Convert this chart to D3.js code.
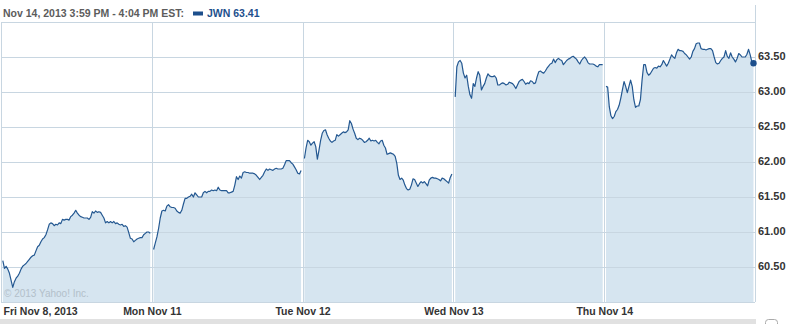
<!DOCTYPE html>
<html><head><meta charset="utf-8">
<script src="https://cdn.jsdelivr.net/npm/d3@7"></script>
<style>body{margin:0;background:#fff;} svg{display:block;}</style>
</head><body>
<svg id="chart" width="797" height="324"></svg>
<script>
// ---------- data ----------
const dayLabels = ["Fri Nov 8, 2013", "Mon Nov 11", "Tue Nov 12", "Wed Nov 13", "Thu Nov 14"];
const yTickValues = [60.5, 61.0, 61.5, 62.0, 62.5, 63.0, 63.5];
const headerText = "Nov 14, 2013 3:59 PM - 4:04 PM EST:";
const symbolText = "JWN 63.41";
const copyrightText = "\u00A9 2013 Yahoo! Inc.";

const friPrices = [60.59,60.48,60.51,60.47,60.41,60.31,60.21,60.29,60.34,60.37,60.41,60.47,60.51,60.53,60.55,60.58,60.61,60.64,60.66,60.67,60.73,60.79,60.81,60.86,60.90,60.92,60.96,61.03,61.11,61.13,61.12,61.09,61.11,61.10,61.13,61.12,61.18,61.17,61.18,61.18,61.17,61.22,61.24,61.27,61.31,61.27,61.24,61.22,61.21,61.20,61.20,61.20,61.18,61.21,61.29,61.27,61.30,61.28,61.29,61.28,61.24,61.20,61.13,61.15,61.13,61.15,61.13,61.15,61.12,61.13,61.11,61.10,61.11,61.08,61.09,61.07,60.99,60.91,60.90,60.86,60.88,60.90,60.91,60.92,60.92,60.96,60.98,61.00,61.00,60.98];
const monPrices = [60.75,60.84,60.93,61.05,61.20,61.30,61.31,61.30,61.37,61.39,61.36,61.35,61.35,61.34,61.30,61.28,61.27,61.31,61.40,61.48,61.48,61.50,61.51,61.54,61.50,61.56,61.53,61.50,61.50,61.50,61.56,61.58,61.56,61.58,61.58,61.60,61.59,61.60,61.59,61.64,61.60,61.59,61.59,61.59,61.59,61.56,61.56,61.57,61.58,61.67,61.79,61.75,61.80,61.77,61.85,61.86,61.85,61.85,61.84,61.84,61.84,61.83,61.81,61.78,61.75,61.78,61.81,61.86,61.90,61.88,61.90,61.89,61.88,61.90,61.91,61.90,61.90,61.90,61.91,61.96,62.02,62.02,62.02,61.99,61.97,61.93,61.89,61.84,61.83,61.88];
const tuePrices = [62.05,62.20,62.31,62.29,62.24,62.27,62.29,62.22,62.04,62.17,62.31,62.41,62.45,62.46,62.39,62.34,62.30,62.28,62.30,62.31,62.39,62.37,62.39,62.41,62.43,62.42,62.43,62.46,62.59,62.55,62.47,62.41,62.34,62.32,62.34,62.33,62.31,62.28,62.29,62.31,62.34,62.30,62.31,62.30,62.31,62.28,62.26,62.30,62.31,62.24,62.20,62.11,62.12,62.13,62.12,62.11,62.08,61.98,61.81,61.75,61.77,61.74,61.67,61.62,61.60,61.61,61.67,61.76,61.75,61.70,61.65,61.69,61.72,61.70,61.72,61.69,61.66,61.74,61.77,61.78,61.77,61.77,61.76,61.75,61.73,61.77,61.76,61.74,61.72,61.70,61.78,61.83];
const wedPrices = [62.93,63.36,63.43,63.45,63.41,63.27,63.20,63.24,63.08,62.96,62.91,63.12,63.08,63.20,63.29,63.24,63.03,63.08,63.12,63.20,63.26,63.23,63.22,63.22,63.23,63.20,63.10,63.10,63.12,63.13,63.12,63.10,63.11,63.14,63.13,63.12,63.09,63.05,63.10,63.15,63.17,63.18,63.15,63.11,63.13,63.12,63.16,63.15,63.12,63.13,63.22,63.29,63.30,63.28,63.27,63.30,63.34,63.37,63.40,63.41,63.47,63.42,63.46,63.48,63.46,63.45,63.39,63.42,63.45,63.47,63.48,63.50,63.51,63.49,63.47,63.43,63.40,63.45,63.48,63.50,63.47,63.42,63.40,63.40,63.40,63.39,63.37,63.36,63.39,63.39,63.39];
const thuPrices = [63.08,63.07,62.79,62.66,62.62,62.65,62.72,62.75,62.81,62.91,63.03,63.15,63.08,62.99,63.08,63.17,63.08,62.89,62.78,62.80,62.80,62.89,63.17,63.39,63.39,63.28,63.24,63.26,63.30,63.34,63.35,63.34,63.37,63.36,63.39,63.45,63.41,63.37,63.41,63.47,63.53,63.50,63.48,63.56,63.61,63.59,63.59,63.58,63.55,63.53,63.50,63.47,63.50,63.58,63.62,63.69,63.70,63.70,63.62,63.61,63.61,63.60,63.61,63.62,63.62,63.59,63.50,63.42,63.40,63.41,63.45,63.48,63.50,63.59,63.51,63.48,63.56,63.50,63.47,63.43,63.48,63.55,63.53,63.50,63.50,63.50,63.54,63.61,63.53,63.43,63.41];

const sessions = [friPrices, monPrices, tuePrices, wedPrices, thuPrices];

// ---------- layout ----------
const svg = d3.select("#chart");
const plot = {left: 1, right: 755, top: 22, bottom: 302};
const x = d3.scaleLinear().domain([0, 5]).range([plot.left, plot.right]);
const y = d3.scaleLinear().domain([60, 64]).range([plot.bottom, plot.top]);

const lineColor = "#245891";
const fillColor = "#d6e5f0";
const gridColor = "#c8d6e1";

// build series: each trading session occupies its day slot
const series = sessions.map((arr, d) => arr.map((v, i) => ({t: d + 0.012 + 0.978 * i / (arr.length - 1), v})));

// header
svg.append("text").attr("x", 3).attr("y", 17)
  .attr("font-family", "Liberation Sans, Arial, sans-serif").attr("font-weight", "bold")
  .attr("font-size", "10.5px").attr("fill", "#5c5c5c").text(headerText);
svg.append("rect").attr("x", 193).attr("y", 11.5).attr("width", 10).attr("height", 4).attr("fill", "#1d4f8c");
svg.append("text").attr("x", 207).attr("y", 17)
  .attr("font-family", "Liberation Sans, Arial, sans-serif").attr("font-weight", "bold")
  .attr("font-size", "10.5px").attr("fill", "#1d4f8c").text(symbolText);

// areas
const area = d3.area().x(d => x(d.t)).y0(plot.bottom).y1(d => y(d.v));
svg.append("g").selectAll("path").data(series).join("path")
  .attr("d", area).attr("fill", fillColor);

// horizontal gridlines
const gridVals = d3.range(60, 64.001, 0.5);
svg.append("g").selectAll("line").data(gridVals).join("line")
  .attr("x1", plot.left).attr("x2", plot.right)
  .attr("y1", d => Math.round(y(d)) + 0.5).attr("y2", d => Math.round(y(d)) + 0.5)
  .attr("stroke", gridColor).attr("stroke-width", 1);

// vertical gridlines
svg.append("g").selectAll("line").data(d3.range(0, 6)).join("line")
  .attr("x1", d => Math.round(x(d)) + 0.5).attr("x2", d => Math.round(x(d)) + 0.5)
  .attr("y1", d => d === 5 ? 5 : plot.top).attr("y2", plot.bottom)
  .attr("stroke", gridColor).attr("stroke-width", 1);

// lines
const line = d3.line().x(d => x(d.t)).y(d => y(d.v));
svg.append("g").selectAll("path").data(series).join("path")
  .attr("d", line).attr("fill", "none").attr("stroke", lineColor)
  .attr("stroke-width", 1.2).attr("stroke-linejoin", "round");

// end dot
const last = series[4][series[4].length - 1];
svg.append("circle").attr("cx", x(last.t)).attr("cy", y(last.v)).attr("r", 3.2).attr("fill", "#1d4f8c");

// copyright
svg.append("text").attr("x", 4).attr("y", 297)
  .attr("font-family", "Liberation Sans, Arial, sans-serif").attr("font-size", "10px")
  .attr("fill", "#b3c0ca").text(copyrightText);

// y axis
const yAxis = d3.axisRight(y).tickValues(yTickValues).tickFormat(d3.format(".2f")).tickSize(0).tickPadding(3);
const gy = svg.append("g").attr("transform", `translate(${plot.right},0)`).call(yAxis);
gy.select(".domain").remove();
gy.selectAll("text").attr("font-family", "Liberation Sans, Arial, sans-serif")
  .attr("font-weight", "bold").attr("font-size", "11px").attr("fill", "#333").attr("dy", "0.25em");

// x axis
const xAxis = d3.axisBottom(x).tickValues([0, 1, 2, 3, 4]).tickFormat(i => dayLabels[i]).tickSize(0).tickPadding(0);
const gx = svg.append("g").attr("transform", `translate(0,${plot.bottom})`).call(xAxis);
gx.select(".domain").remove();
gx.selectAll("text").attr("font-family", "Liberation Sans, Arial, sans-serif")
  .attr("font-weight", "bold").attr("font-size", "10.5px").attr("fill", "#333")
  .attr("dy", "0").attr("y", 13)
  .attr("text-anchor", i => i === 0 ? "start" : "middle")
  .attr("x", i => i === 0 ? 2 : 0);

// bottom bar
svg.append("rect").attr("x", 0).attr("y", 319).attr("width", 756).attr("height", 5).attr("fill", "#e1e1e1");
svg.append("rect").attr("x", 765.5).attr("y", 319.5).attr("width", 12).attr("height", 8).attr("rx", 3)
  .attr("fill", "#fff").attr("stroke", "#aaa");
</script>
</body></html>
